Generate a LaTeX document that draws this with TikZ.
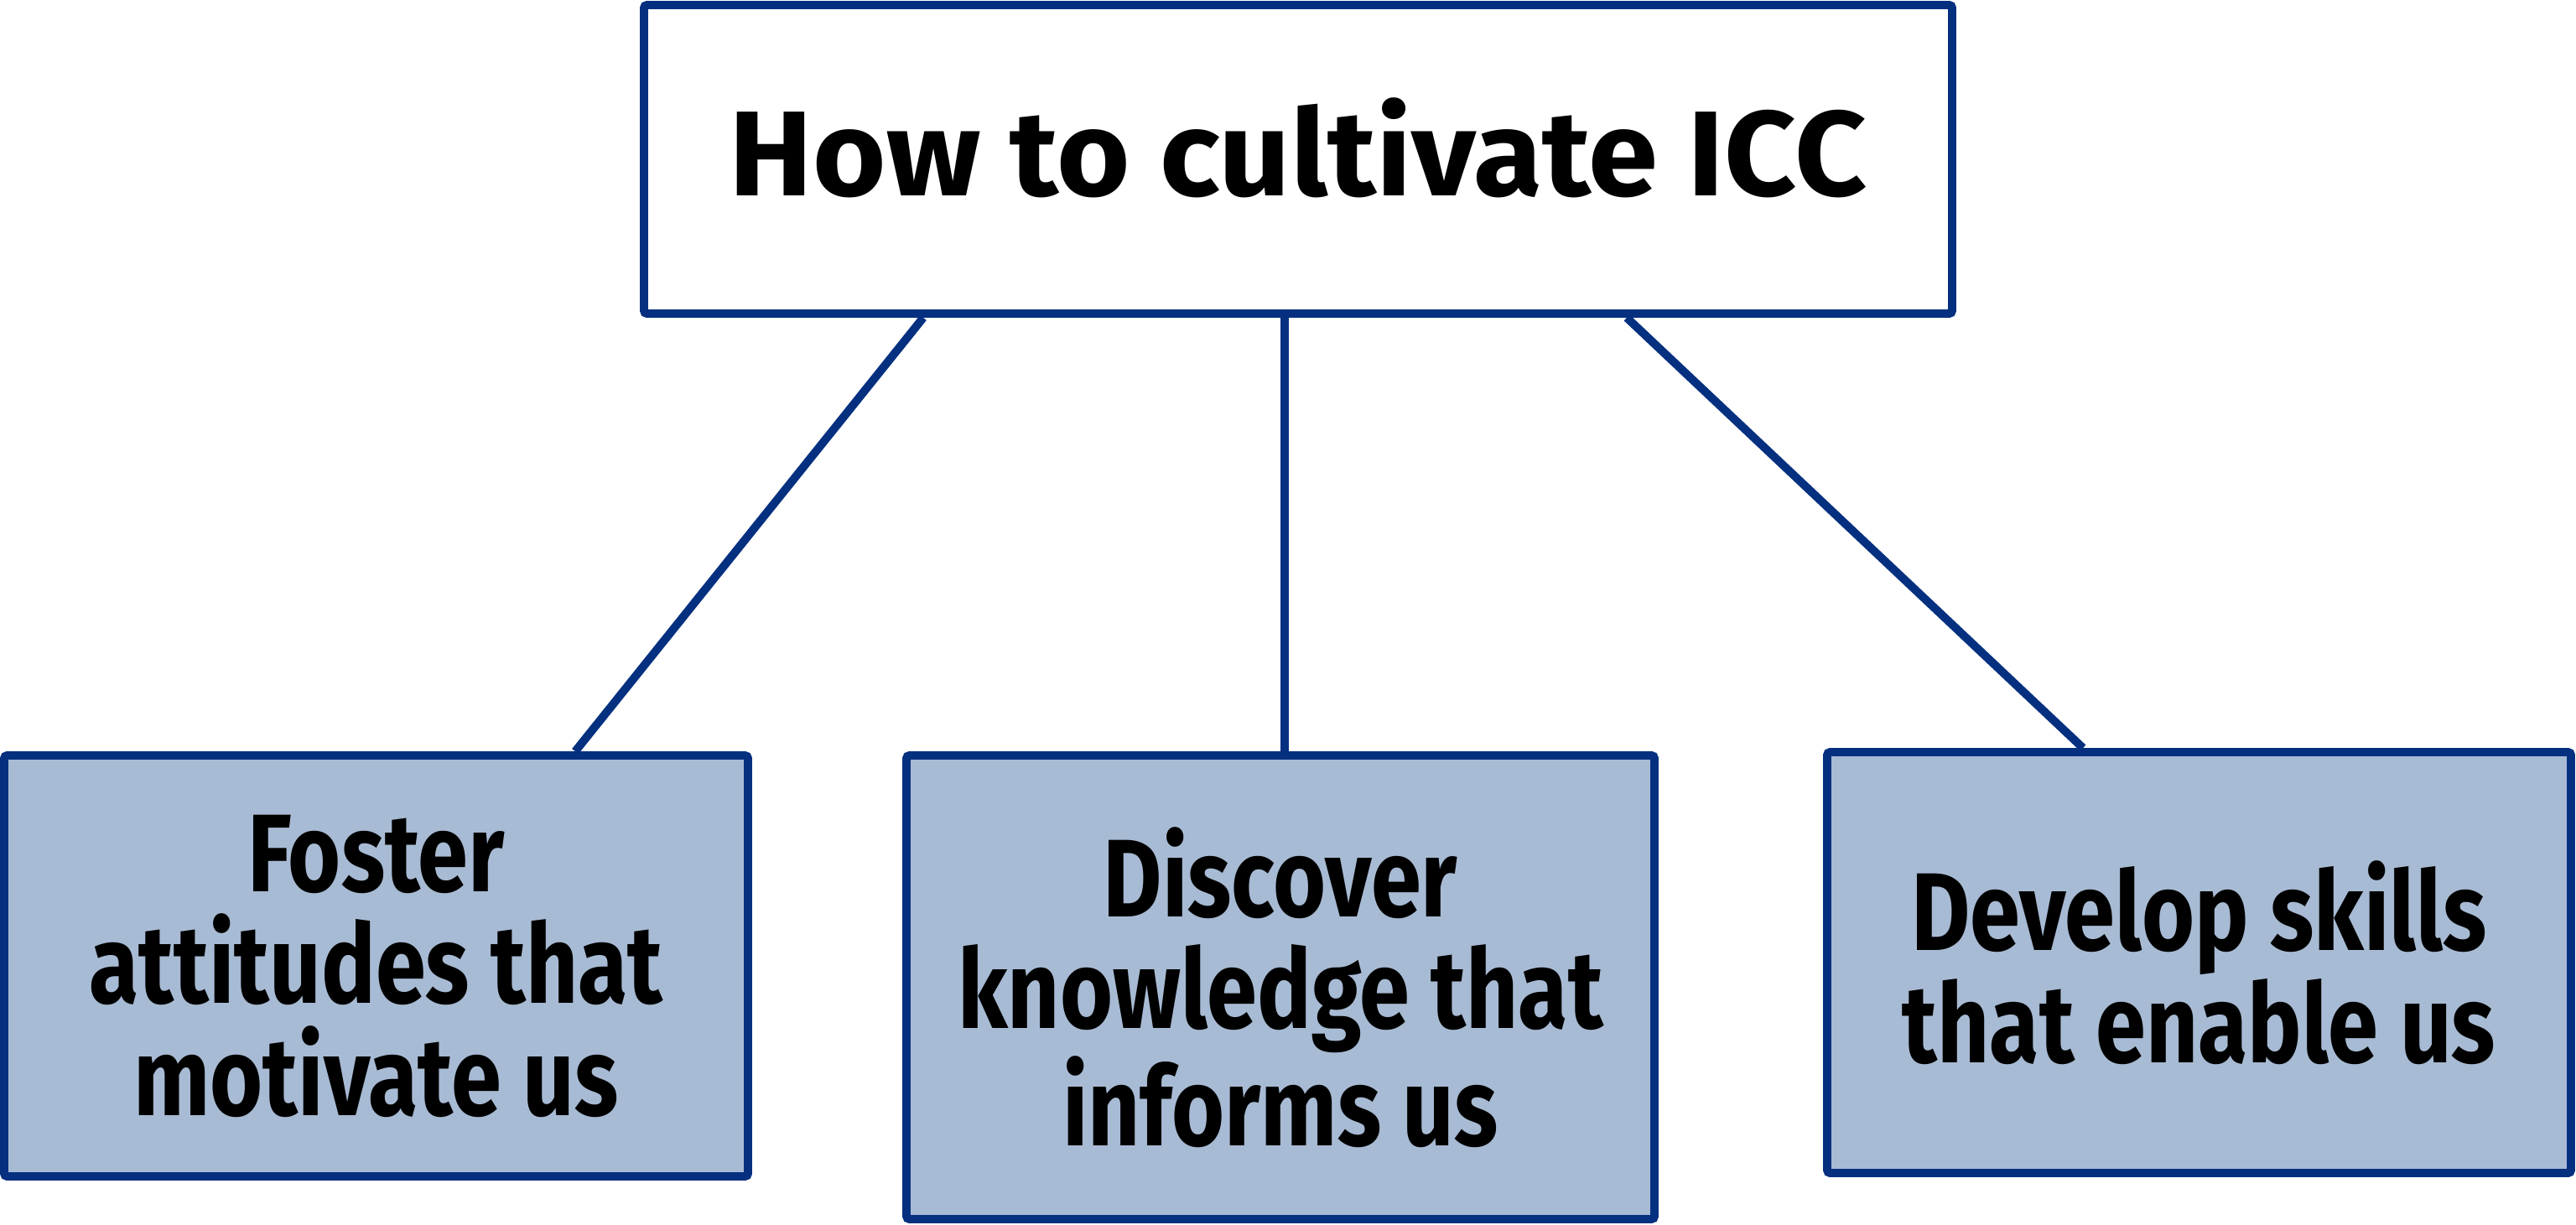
\documentclass[tikz,border=0pt]{standalone}
\usepackage{fontspec}
\setmainfont[FakeStretch=0.82]{Fira Sans}
\newfontfamily\headfont[FakeStretch=1.04]{Fira Sans}
\usetikzlibrary{positioning}
\definecolor{iccblue}{RGB}{5,48,128}
\definecolor{iccfill}{RGB}{168,187,212}
\tikzset{
  headbox/.style={draw=iccblue, line width=2.8pt, fill=white, rounded corners=1pt,
    minimum width=15.6cm, minimum height=3.68cm, text height=28pt, text depth=3pt,
    font=\headfont\fontsize{41}{45}\selectfont\bfseries},
  leafbox/.style={draw=iccblue, line width=2.8pt, fill=iccfill, rounded corners=1pt,
    minimum width=8.87cm, minimum height=5.02cm, align=center,
    font=\fontsize{37.5}{38}\selectfont\bfseries},
  link/.style={draw=iccblue, line width=2.8pt}
}
\begin{document}
\begin{tikzpicture}
\useasboundingbox (0,0) rectangle (30.72,14.60);
\node[headbox] (top) at (15.48,12.70) {How to cultivate ICC};
\node[leafbox] (foster) at (4.485,3.08) {Foster\\attitudes that\\motivate us};
\node[leafbox, minimum width=8.92cm, minimum height=5.53cm] (discover) at (15.27,2.825) {Discover\\knowledge that\\informs us};
\node[leafbox] (develop) at (26.225,3.12) {Develop skills\\that enable us};
% connectors
\draw[link] ([xshift=-4.47cm]top.south) -- ([xshift=2.375cm]foster.north);
\draw[link] ([xshift=-0.16cm]top.south) -- ([xshift=0.05cm]discover.north);
\draw[link] ([xshift=3.92cm]top.south) -- ([xshift=-1.385cm]develop.north);
\end{tikzpicture}
\end{document}
